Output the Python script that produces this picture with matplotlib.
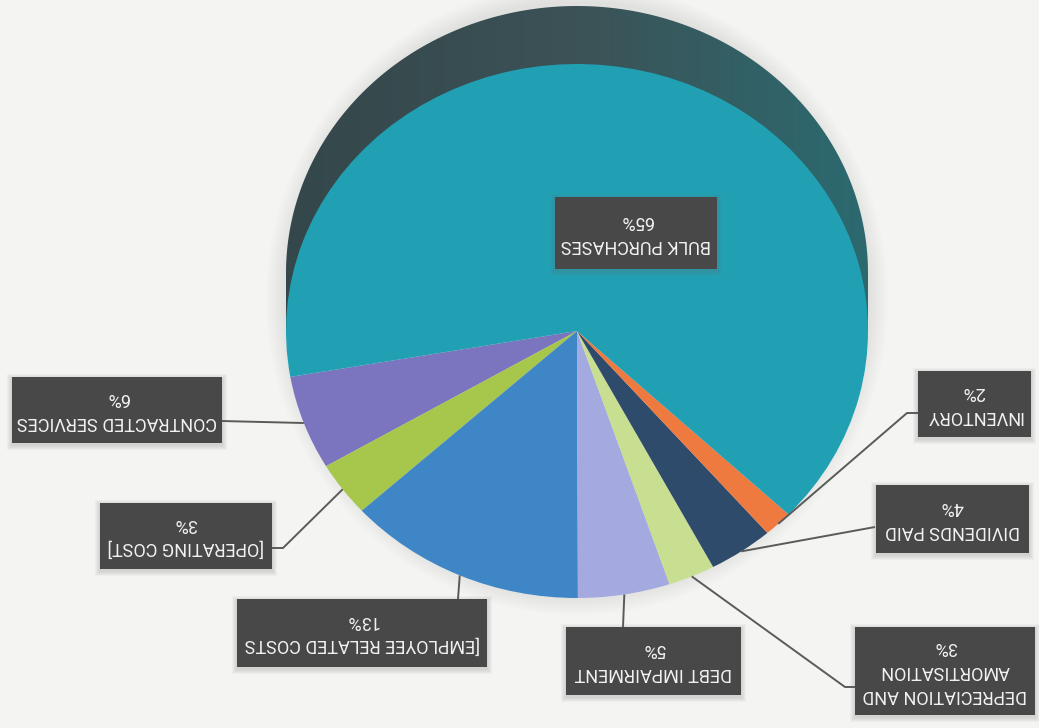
import numpy as np
import matplotlib
matplotlib.use("Agg")
import matplotlib.pyplot as plt
from matplotlib import font_manager
from matplotlib.patches import Ellipse, Rectangle, Polygon
from matplotlib.transforms import Affine2D
from matplotlib.colors import LinearSegmentedColormap

# ---------------- data ----------------
categories = ["CONTRACTED SERVICES", "[OPERATING COST]", "[EMPLOYEE RELATED COSTS",
              "DEBT IMPAIRMENT", "DEPRECIATION AND\nAMORTISATION", "DIVIDENDS PAID",
              "INVENTORY", "BULK PURCHASES"]
shares = [5.7, 3.3, 13.3, 5.1, 2.6, 3.6, 1.6, 64.8]
pct_labels = ["6%", "3%", "13%", "5%", "3%", "4%", "2%", "65%"]
colors = ["#7B74BF", "#A6C64C", "#3F86C6", "#A4A9DF", "#C8DF92", "#2F4B6B",
          "#EF7A40", "#21A0B4"]

# ---------------- layout (image pixel coordinates) ----------------
W, H = 1039, 728
BG = "#F4F5F2"
CX, CY = 577, 331      # pie centre
RA, RB = 291, 267      # ellipse semi-axes of the top face
DEPTH = 58             # visible thickness of the 3-D wall
START = 189.9          # start angle of first slice

box_centers = [(117, 410), (186, 536), (362, 633), (653, 661), (945, 671),
               (952, 519), (974, 404), (636, 233)]
box_sizes = [(210, 66), (172, 66), (250, 68), (175, 68), (180, 88),
             (153, 68), (113, 66), (162, 72)]
leader_start = [[(222, 421)], [(272, 548), (283, 548)], [(458, 599)], [(623, 627)],
                [(855, 687), (845, 687)], [(875, 527)], [(918, 413), (907, 413)], None]

installed = {f.name for f in font_manager.fontManager.ttflist}
FONT = [f for f in ["Liberation Sans Narrow", "Roboto", "Liberation Sans", "DejaVu Sans"]
        if f in installed]

fig = plt.figure(figsize=(W / 100, H / 100), dpi=100)
fig.patch.set_facecolor(BG)
ax = fig.add_axes([0, 0, 1, 1])
ax.set_facecolor(BG)

# ---- soft halo around the pie ----
for k in range(10):
    ax.add_patch(Ellipse((CX, CY - DEPTH / 2 - 3), 2 * RA + 4 * (k + 1), 2 * RB + DEPTH + 4 * (k + 1),
                         facecolor="#8f8f8f", edgecolor="none", alpha=0.016, zorder=0.2))

# ---- 3-D wall (seen from below after the 180° turn) ----
t = np.linspace(np.pi, 0, 200)
wall_verts = list(zip(CX + RA * np.cos(t), CY - DEPTH - RB * np.sin(t)))
wall_verts += [(CX + RA, CY), (CX - RA, CY)]
wall = Polygon(wall_verts, closed=True, facecolor="none", edgecolor="none")
ax.add_patch(wall)
cmap = LinearSegmentedColormap.from_list("wall", ["#34474B", "#3C5256", "#2B6A70"])
im = ax.imshow(np.linspace(0, 1, 256)[None, :], cmap=cmap, aspect="auto",
               extent=(CX - RA, CX + RA, CY, CY - DEPTH - RB), zorder=0.5,
               interpolation="bilinear")
im.set_clip_path(wall)

# ---- top face slices ----
wedges, _ = ax.pie(shares, colors=colors, startangle=START, counterclock=True,
                   center=(CX, CY), radius=RA, wedgeprops=dict(linewidth=0))
squash = Affine2D().translate(-CX, -CY).scale(1, -RB / RA).translate(CX, CY)
for w in wedges:
    w.set_transform(squash + ax.transData)
    w.set_zorder(2)

ax.set_aspect("auto")
ax.set_xlim(0, W)
ax.set_ylim(H, 0)
ax.axis("off")

# ---- leader lines ----
cum = np.concatenate([[0], np.cumsum(shares)]) / np.sum(shares) * 360
mids = np.radians(START + (cum[:-1] + cum[1:]) / 2)
anc_x = CX + RA * np.cos(mids)
anc_y = CY - RB * np.sin(mids)
for i, pts in enumerate(leader_start):
    if pts is None:
        continue
    xs = [p[0] for p in pts] + [anc_x[i]]
    ys = [p[1] for p in pts] + [anc_y[i]]
    ax.plot(xs, ys, color="#5A5A5A", lw=1.4, zorder=3, solid_capstyle="butt")

# ---- label boxes (text upside down, as in the scan) ----
for i, cat in enumerate(categories):
    bx, by = box_centers[i]
    bw, bh = box_sizes[i]
    for s in range(1, 6):
        ax.add_patch(Rectangle((bx - bw / 2 - s, by - bh / 2 - s + 2), bw + 2 * s, bh + 2 * s,
                               facecolor="#6f6f6f", edgecolor="none", alpha=0.05, zorder=3.5))
    ax.add_patch(Rectangle((bx - bw / 2, by - bh / 2), bw, bh, facecolor="#484848",
                           edgecolor="none", zorder=4))
    ax.text(bx, by, f"{cat}\n{pct_labels[i]}", rotation=180, ha="center", va="center",
            multialignment="center", color="#F2F2F2", fontsize=13, family=FONT,
            linespacing=1.42, zorder=5)

fig.savefig("out.png", dpi=100, facecolor=BG)
